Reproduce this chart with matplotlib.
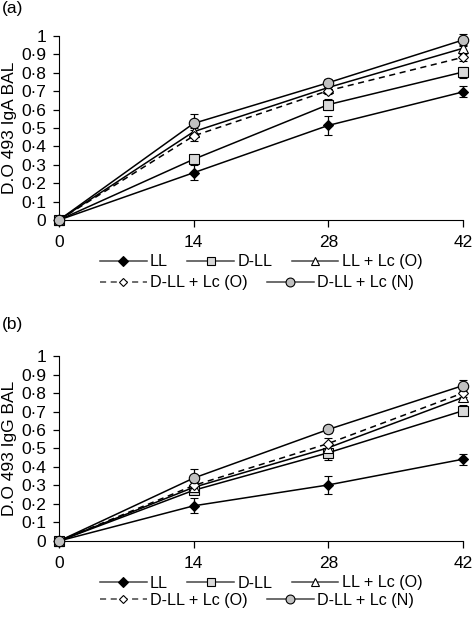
import matplotlib
matplotlib.use('Agg')
import matplotlib.pyplot as plt
from matplotlib.ticker import FuncFormatter
from matplotlib.lines import Line2D

plt.rcParams['font.family'] = ['Liberation Sans', 'DejaVu Sans']
plt.rcParams['font.size'] = 12.5

# days after immunisation
days = [0, 14, 28, 42]
series = ['LL', 'D-LL', 'LL + Lc (O)', 'D-LL + Lc (O)', 'D-LL + Lc (N)']

# panel (a) IgA
iga_ll = [0.0, 0.257, 0.514, 0.696]
iga_dll = [0.0, 0.33, 0.627, 0.804]
iga_ll_lco = [0.0, 0.48, 0.72, 0.933]
iga_dll_lco = [0.0, 0.457, 0.703, 0.884]
iga_dll_lcn = [0.0, 0.525, 0.746, 0.978]
iga_ll_err = [0.0, 0.04, 0.05, 0.03]
iga_dll_err = [0.0, 0.02, 0.03, 0.03]
iga_ll_lco_err = [0.0, 0.02, 0.02, 0.02]
iga_dll_lco_err = [0.0, 0.03, 0.02, 0.02]
iga_dll_lcn_err = [0.0, 0.05, 0.02, 0.03]

# panel (b) IgG
igg_ll = [0.0, 0.19, 0.303, 0.442]
igg_dll = [0.0, 0.274, 0.477, 0.704]
igg_ll_lco = [0.0, 0.29, 0.504, 0.776]
igg_dll_lco = [0.0, 0.30, 0.527, 0.80]
igg_dll_lcn = [0.0, 0.34, 0.603, 0.84]
igg_ll_err = [0.0, 0.04, 0.05, 0.03]
igg_dll_err = [0.0, 0.02, 0.04, 0.03]
igg_ll_lco_err = [0.0, 0.02, 0.02, 0.02]
igg_dll_lco_err = [0.0, 0.02, 0.03, 0.02]
igg_dll_lcn_err = [0.0, 0.05, 0.02, 0.03]

styles = [
    dict(marker='D', mfc='black', ms=5.5, ls='-'),
    dict(marker='s', mfc='#d9d9d9', ms=6.5, ls='-'),
    dict(marker='^', mfc='white', ms=7, ls='-'),
    dict(marker='D', mfc='white', ms=5, ls=(0, (4, 3))),
    dict(marker='o', mfc='#c0c0c0', ms=7.5, ls='-'),
]

fig = plt.figure(figsize=(4.73, 6.17), dpi=100)
ax_a = fig.add_axes([0.1247, 0.6434, 0.854, 0.2983])
ax_b = fig.add_axes([0.1247, 0.1232, 0.854, 0.2998])

dot_fmt = FuncFormatter(lambda v, p: '0' if abs(v) < 1e-9 else ('1' if abs(v - 1) < 1e-9 else ('%.1f' % v).replace('.', '\u00b7')))


def draw(ax, vals, errs, ylabel):
    for v, e, st in zip(vals, errs, styles):
        ax.errorbar(days, v, yerr=e, color='black', lw=1.1, mec='black', mew=0.8,
                    capsize=3, elinewidth=0.9, capthick=0.9, clip_on=False, zorder=3,
                    marker=st['marker'], mfc=st['mfc'], ms=st['ms'], ls=st['ls'])
    ax.set_xlim(0, 42)
    ax.set_ylim(0, 1)
    ax.set_xticks(days)
    ax.set_yticks([i / 10 for i in range(11)])
    ax.yaxis.set_major_formatter(dot_fmt)
    ax.spines['top'].set_visible(False)
    ax.spines['right'].set_visible(False)
    ax.tick_params(direction='out', length=4, width=0.9, pad=5)
    ax.tick_params(axis='x', length=5, pad=6)
    ax.set_ylabel(ylabel)
    ax.yaxis.set_label_coords(-0.104, 0.5)


draw(ax_a, [iga_ll, iga_dll, iga_ll_lco, iga_dll_lco, iga_dll_lcn],
     [iga_ll_err, iga_dll_err, iga_ll_lco_err, iga_dll_lco_err, iga_dll_lcn_err],
     'D.O 493 IgA BAL')
draw(ax_b, [igg_ll, igg_dll, igg_ll_lco, igg_dll_lco, igg_dll_lcn],
     [igg_ll_err, igg_dll_err, igg_ll_lco_err, igg_dll_lco_err, igg_dll_lcn_err],
     'D.O 493 IgG BAL')

handles = [Line2D([], [], color='#444444', lw=1.1, marker=st['marker'], mfc=st['mfc'],
                  mec='black', mew=0.8, ms=st['ms'] * 0.85, ls=st['ls']) for st in styles]

legend_kw = dict(frameon=False, fontsize=11.6, handlelength=2.9, handletextpad=0.2,
                 columnspacing=1.2, borderaxespad=0, borderpad=0, loc='center left')
for row1_y, row2_y in [(262, 283), (583, 600)]:
    fig.legend(handles[:3], series[:3], ncol=3, bbox_to_anchor=(100 / 473, 1 - row1_y / 617), **legend_kw)
    fig.legend(handles[3:], series[3:], ncol=2, bbox_to_anchor=(100 / 473, 1 - row2_y / 617), **legend_kw)

fig.text(0.004, 1 - 8 / 617, '(a)', va='center', ha='left')
fig.text(0.004, 1 - 325 / 617, '(b)', va='center', ha='left')

fig.savefig('out.png', dpi=100)
